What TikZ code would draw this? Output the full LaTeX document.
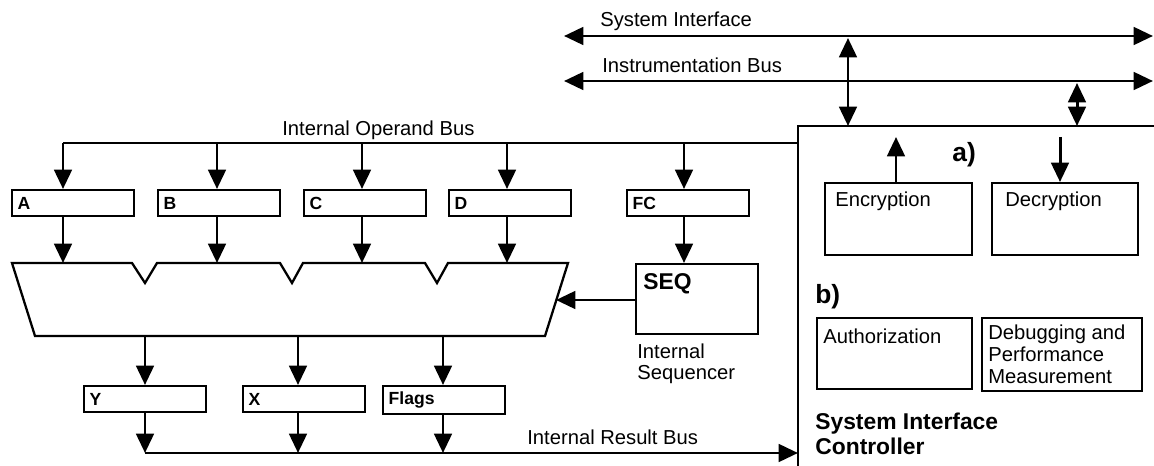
\documentclass[tikz,border=0pt]{standalone}
\usepackage{fontspec}
\setmainfont{Liberation Sans}
\usetikzlibrary{arrows, arrows.meta}

\tikzset{
  bus/.style={line width=1.7pt},
  arr/.style={line width=1.7pt,-{Triangle[length=11pt,width=10pt]}},
  darr/.style={line width=1.7pt,{Triangle[length=11pt,width=10pt]}-{Triangle[length=11pt,width=10pt]}},
  reg/.style={draw,line width=1.3pt,anchor=north west,minimum height=0.52cm,text width=2.22cm,inner xsep=0.11cm,align=left,font=\fontsize{10}{11}\selectfont\bfseries},
  blk/.style={draw,line width=1.3pt,anchor=north west,inner sep=0pt},
  lbl/.style={anchor=base west,inner sep=0pt,font=\fontsize{11.5}{13}\selectfont},
  bold/.style={anchor=base west,inner sep=0pt,font=\fontsize{13}{14}\selectfont\bfseries},
}

\begin{document}
\begin{tikzpicture}[x=0.02cm,y=-0.02cm]
\useasboundingbox (0,0) rectangle (1154,466);

% system interface controller (open to the right and bottom)
\coordinate (sicbot) at (798,466);
\coordinate (sictop) at (798,126);
\coordinate (sicend) at (1154,126);
\draw[line width=1.3pt] (sicbot) -- (sictop) -- (sicend);

% external buses
\coordinate (siL) at (564,36);
\coordinate (siR) at (1153,36);
\coordinate (ibL) at (564,81);
\coordinate (ibR) at (1153,81);
\draw[darr] (siL) -- (siR);
\draw[darr] (ibL) -- (ibR);
\node[lbl] (silbl) at (600,27) {System Interface};
\node[lbl] (iblbl) at (602,73) {Instrumentation Bus};
\draw[darr] (848,38) -- (848,0 |- sictop);
\draw[darr] (1077,83) -- (1077,0 |- sictop);

% registers
\node[reg] (A) at (11,189) {A};
\node[reg] (B) at (157,189) {B};
\node[reg] (C) at (303,189) {C};
\node[reg] (D) at (448,189) {D};
\node[reg] (FC) at (626,189) {FC};
\node[reg] (Y) at (83,385) {Y};
\node[reg] (X) at (242,385) {X};
\node[reg] (Flags) at (382,385) {Flags};

% ALU
\coordinate (alutop) at (12,263);
\coordinate (alubot) at (35,336);
\draw[line width=1.3pt] (alutop) -- (132,263) -- (145,283) -- (157,263) -- (280,263) -- (292,283) -- (303,263)
  -- (425,263) -- (437,283) -- (448,263) -- (568,263) -- (545,336) -- (alubot) -- cycle;

% sequencer
\node[blk,minimum width=2.44cm,minimum height=1.4cm] (SEQ) at (635,263) {};
\node[bold] (seqlbl) at (643,290) {SEQ};
\node[lbl,anchor=north west,align=left,font=\fontsize{11.5}{11.5}\selectfont] (seqtxt) at (637,344) {Internal\\Sequencer};
\draw[arr] (SEQ.west |- 0,300) -- (556,300);

% internal operand bus
\coordinate (opbus) at (63,143);
\draw[bus] (sictop |- opbus) -- (opbus);
\node[lbl] (oplbl) at (282,136) {Internal Operand Bus};
\foreach \r/\x in {A/63,B/217,C/362,D/507,FC/684}{
  \draw[arr] (\x,143) -- (\x,0 |- \r.north);
}
\foreach \r/\x in {A/63,B/217,C/362,D/507}{
  \draw[arr] (\x,0 |- \r.south) -- (\x,0 |- alutop);
}
\draw[arr] (684,0 |- FC.south) -- (684,0 |- SEQ.north);

% internal result bus
\coordinate (resbus) at (145,453);
\foreach \r/\x in {Y/145,X/298,Flags/443}{
  \draw[arr] (\x,0 |- alubot) -- (\x,0 |- \r.north);
  \draw[arr] (\x,0 |- \r.south) -- (\x,0 |- resbus);
}
\draw[arr] (resbus) -- (sicbot |- resbus);
\node[lbl] (reslbl) at (527,444) {Internal Result Bus};

% a) encryption / decryption
\node[bold,font=\fontsize{15}{16}\selectfont\bfseries] (alabel) at (952,162) {a)};
\node[blk,minimum width=2.94cm,minimum height=1.44cm] (Enc) at (824,182) {};
\node[lbl] (enctxt) at (835,207) {Encryption};
\node[blk,minimum width=2.92cm,minimum height=1.44cm] (Dec) at (991,182) {};
\node[lbl] (dectxt) at (1005,207) {Decryption};
\draw[arr] (896,0 |- Enc.north) -- (896,137);
\draw[arr] (1060,137) -- (1060,0 |- Dec.north);

% b) authorization / debugging
\node[bold,font=\fontsize{15}{16}\selectfont\bfseries] (blabel) at (815,303) {b)};
\node[blk,minimum width=3.1cm,minimum height=1.42cm] (Auth) at (816,317) {};
\node[lbl] (authtxt) at (823,343) {Authorization};
\node[blk,minimum width=3.2cm,minimum height=1.46cm] (Dbg) at (981,317) {};
\node[lbl,anchor=north west,align=left,font=\fontsize{11.5}{12.5}\selectfont] (dbgtxt) at (988,325) {Debugging and\\Performance\\Measurement};

\node[bold,anchor=north west,align=left,font=\fontsize{13}{14}\selectfont\bfseries] (sictxt) at (815,413) {System Interface\\Controller};

\end{tikzpicture}
\end{document}
